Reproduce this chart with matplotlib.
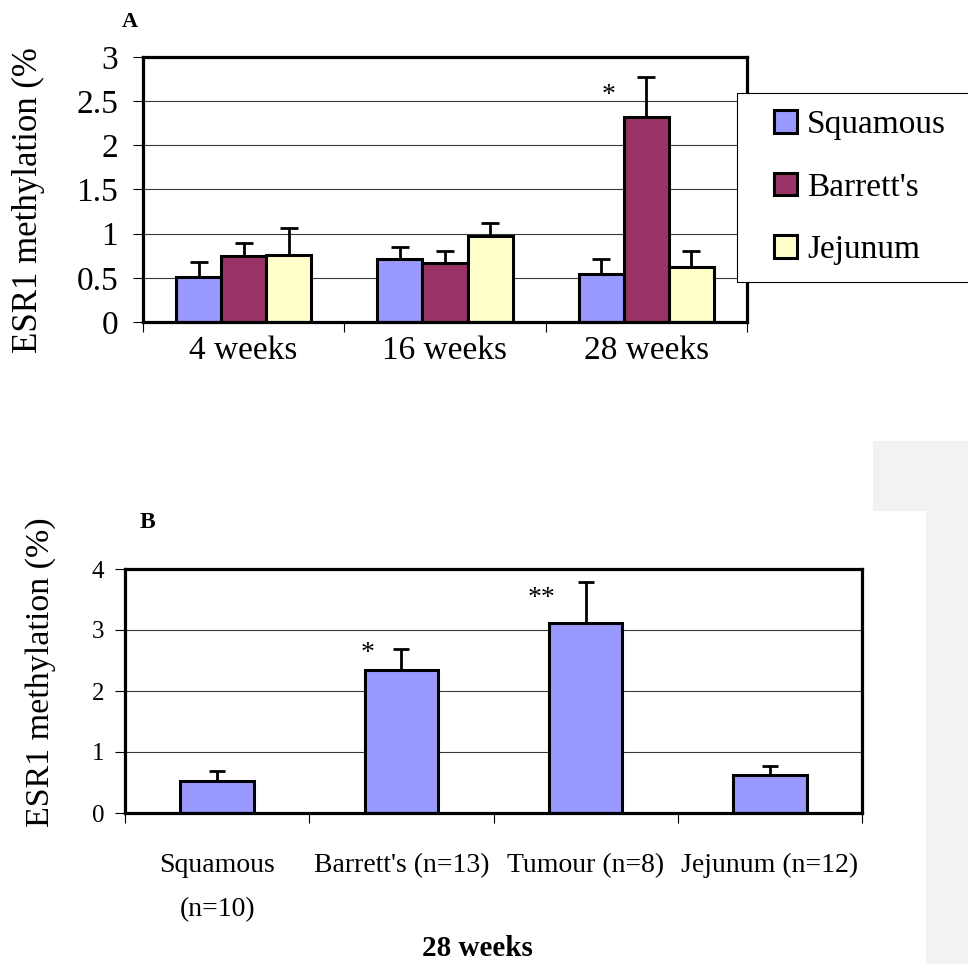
import matplotlib
matplotlib.use('Agg')
import matplotlib.pyplot as plt
from matplotlib.patches import Rectangle
from matplotlib.container import BarContainer
from matplotlib.legend_handler import HandlerPatch
from matplotlib.ticker import FuncFormatter, FixedLocator
import numpy as np

plt.rcParams['font.family'] = ['Liberation Serif', 'DejaVu Serif']

# Panel A: ESR1 methylation by time point
weeks = ['4 weeks', '16 weeks', '28 weeks']
squamous_a = [0.51, 0.71, 0.54]
squamous_a_err = [0.17, 0.14, 0.17]
barrett_a = [0.75, 0.67, 2.32]
barrett_a_err = [0.14, 0.13, 0.45]
jejunum_a = [0.755, 0.97, 0.62]
jejunum_a_err = [0.305, 0.15, 0.18]

# Panel B: 28 weeks by tissue
tissues = ['Squamous\n(n=10)', "Barrett's (n=13)", 'Tumour (n=8)', 'Jejunum (n=12)']
values_b = [0.52, 2.34, 3.11, 0.62]
values_b_err = [0.17, 0.35, 0.67, 0.15]

COL_SQ = '#9999FF'
COL_BA = '#993366'
COL_JE = '#FFFFCC'
GRID = '#3a3a3a'

W, H = 968, 964
fig = plt.figure(figsize=(W / 100, H / 100), dpi=100)

# light grey page decoration on the right
fig.patches.append(Rectangle((873 / W, 0), 95 / W, 523 / H, transform=fig.transFigure,
                             facecolor='#F2F2F2', edgecolor='none', zorder=0))
fig.patches.append(Rectangle((873 / W, 0), 53 / W, 453 / H, transform=fig.transFigure,
                             facecolor='white', edgecolor='none', zorder=0))

fmt = FuncFormatter(lambda v, p: '%g' % v)


def style_axes(ax, ncat, ylabelsize, ypad):
    for s in ax.spines.values():
        s.set_linewidth(2.3)
        s.set_color('black')
    ax.set_xlim(-0.5, ncat - 0.5)
    ax.yaxis.set_major_formatter(fmt)
    ax.yaxis.grid(True, color=GRID, linewidth=0.8)
    ax.set_axisbelow(True)
    ax.tick_params(axis='y', direction='out', length=7, width=0.8,
                   labelsize=ylabelsize, pad=ypad)
    ax.xaxis.set_minor_locator(FixedLocator(np.arange(-0.5, ncat, 1.0)))
    ax.tick_params(axis='x', which='major', length=0)
    ax.tick_params(axis='x', which='minor', direction='out', length=7, width=0.8)


def square_right(legend, orig_handle, xdescent, ydescent, width, height, fontsize):
    # square legend key pushed to the right end of the handle box
    return Rectangle((-xdescent + width - height, -ydescent), height, height)


def copy_first(legend_handle, orig_handle):
    legend_handle.update_from(orig_handle[0])


# ---- Panel A ----
ax_a = fig.add_axes([143 / W, 1 - 322 / H, 604 / W, 265 / H])
x = np.arange(len(weeks))
bw = 0.224
ekw = dict(elinewidth=2, capthick=2, ecolor='black')
err_lo = [0] * len(weeks)
ax_a.bar(x - bw, squamous_a, bw, color=COL_SQ, edgecolor='black', linewidth=2.2,
         yerr=[err_lo, squamous_a_err], capsize=6.5, error_kw=ekw, label='Squamous')
ax_a.bar(x, barrett_a, bw, color=COL_BA, edgecolor='black', linewidth=2.2,
         yerr=[err_lo, barrett_a_err], capsize=6.5, error_kw=ekw, label="Barrett's")
ax_a.bar(x + bw, jejunum_a, bw, color=COL_JE, edgecolor='black', linewidth=2.2,
         yerr=[err_lo, jejunum_a_err], capsize=6.5, error_kw=ekw, label='Jejunum')
ax_a.set_ylim(0, 3)
ax_a.set_yticks(np.arange(0, 3.01, 0.5))
ax_a.set_xticks(x)
ax_a.set_xticklabels(weeks, fontsize=24)
style_axes(ax_a, len(weeks), 24, 11)
ax_a.tick_params(axis='x', which='major', pad=10)
ax_a.text(x[2] - 0.19, 2.49, '*', fontsize=20, ha='center', va='baseline')

leg = ax_a.legend(loc='upper left', bbox_to_anchor=(737 / W, 1 - 280 / H, 245 / W, 187 / H),
                  bbox_transform=fig.transFigure, borderaxespad=0, fontsize=24,
                  mode='expand', handlelength=1.3, handleheight=0.67, handletextpad=0.3,
                  borderpad=0.5, labelspacing=0.96, fancybox=False, framealpha=1,
                  handler_map={BarContainer: HandlerPatch(patch_func=square_right,
                                                          update_func=copy_first)})
leg.get_frame().set_edgecolor('black')
leg.get_frame().set_linewidth(0.8)

fig.text(28 / W, 1 - 353 / H, 'ESR1 methylation (%', rotation=90, fontsize=25,
         ha='center', va='bottom')
fig.text(130 / W, 1 - 22 / H, 'A', fontsize=16, fontweight='bold', ha='center', va='center')

# ---- Panel B ----
ax_b = fig.add_axes([125 / W, 1 - 813 / H, 737 / W, 244 / H])
xb = np.arange(len(tissues))
ax_b.bar(xb, values_b, 0.40, color=COL_SQ, edgecolor='black', linewidth=2.2,
         yerr=[[0] * len(tissues), values_b_err], capsize=5.8, error_kw=ekw)
ax_b.set_ylim(0, 4)
ax_b.set_yticks(np.arange(0, 4.01, 1))
ax_b.set_xticks(xb)
ax_b.set_xticklabels(tissues, fontsize=20, linespacing=2.0)
style_axes(ax_b, len(tissues), 18, 8)
ax_b.tick_params(axis='x', which='major', pad=29)
ax_b.text(xb[1] - 0.185, 2.51, '*', fontsize=20, ha='center', va='baseline')
ax_b.text(xb[2] - 0.24, 3.41, '**', fontsize=20, ha='center', va='baseline')

fig.text(41 / W, 1 - 672 / H, 'ESR1 methylation (%)', rotation=90, fontsize=24.5,
         ha='center', va='center')
fig.text(147 / W, 1 - 522 / H, 'B', fontsize=17, fontweight='bold', ha='center', va='center')
fig.text(477 / W, 1 - 948 / H, '28 weeks', fontsize=21, fontweight='bold',
         ha='center', va='center')

fig.savefig('out.png', dpi=100)
